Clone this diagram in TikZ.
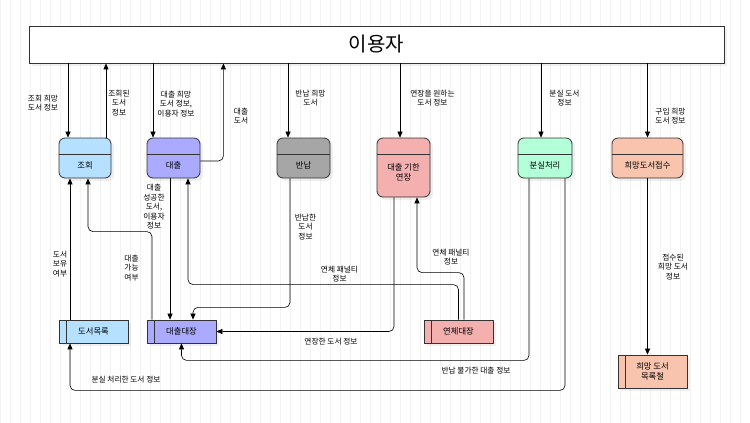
\documentclass[tikz,border=0pt]{standalone}
\usepackage{fontspec}
\setmainfont{Noto Sans CJK KR}
\usetikzlibrary{arrows.meta, shadows}

\definecolor{jocol}{HTML}{B5E0FF}
\definecolor{dccol}{HTML}{AAAAFF}
\definecolor{bncol}{HTML}{A6A6A6}
\definecolor{yjcol}{HTML}{F4AFAF}
\definecolor{bscol}{HTML}{B3FFD7}
\definecolor{hmcol}{HTML}{F8C4AE}

\begin{document}
\begin{tikzpicture}[x=1pt, y=-1pt,
  lbl/.style={font=\fontsize{7.7}{9.5}\selectfont, align=center, inner sep=0},
  ttl/.style={font=\fontsize{8.3}{10}\selectfont, align=center, inner sep=0},
  shd/.style={drop shadow={opacity=0.12, shadow xshift=3pt, shadow yshift=-3pt}},
  proc/.style={draw=black!80, line width=0.8pt, rounded corners=6, fill=#1, shd,
    minimum width=53, minimum height=40, inner sep=0,
    path picture={\draw[black!80, line width=0.8pt]
      ([yshift=-16]path picture bounding box.north west) --
      ([yshift=-16]path picture bounding box.north east);}},
  store/.style={draw=black!80, line width=0.8pt, fill=#1, shd, ttl,
    minimum width=69, minimum height=23,
    path picture={\draw[black!80, line width=0.8pt]
      ([xshift=7]path picture bounding box.north west) --
      ([xshift=7]path picture bounding box.south west);}},
  flow/.style={-{Triangle[length=6pt, width=5pt]}, line width=0.6pt, rounded corners=5}]

  \useasboundingbox (0,0) rectangle (750,423);
  \fill[white] (0,0) rectangle (750,423);
  \draw[black!5, line width=0.5pt, step=10] (0,0) grid (750,423);

  \node[draw=black!80, line width=0.8pt, fill=white, shd, minimum width=695, minimum height=37,
    font=\fontsize{20}{24}\selectfont] (user) at (376.5,44.5) {이용자};

  \node[proc=jocol, minimum width=52] (jo) at (85,158) {};
  \node[ttl] (jo-t) at ([yshift=-7]jo.center) {조회};
  \node[proc=dccol] (dc) at (173.5,158) {};
  \node[ttl] (dc-t) at ([yshift=-7]dc.center) {대출};
  \node[proc=bncol] (bn) at (303.5,158) {};
  \node[ttl] (bn-t) at ([yshift=-7]bn.center) {반납};
  \node[proc=yjcol, minimum height=59] (yj) at (403.5,167.5) {};
  \node[ttl] (yj-t) at ([yshift=-4.5]yj.center) {대출 기한\\연장};
  \node[proc=bscol, minimum width=54] (bs) at (545,158) {};
  \node[ttl] (bs-t) at ([yshift=-7]bs.center) {분실처리};
  \node[proc=hmcol, minimum width=71] (hm) at (647.5,158) {};
  \node[ttl] (hm-t) at ([yshift=-7]hm.center) {희망도서접수};

  \node[store=jocol] (dl) at (93.5,331.5) {도서목록};
  \node[store=dccol] (dd) at (181.5,331.5) {대출대장};
  \node[store=yjcol] (yc) at (458.5,331.5) {연체대장};
  \node[store=hmcol, minimum height=33] (hl) at (652.5,371.5) {희망 도서\\목록철};

  \draw[flow] ([xshift=-17]jo.north |- user.south) -- ([xshift=-17]jo.north);
  \draw[flow] ([xshift=21]jo.north) -- ([xshift=21]jo.north |- user.south);
  \draw[flow] ([xshift=-20.5]dc.north |- user.south) -- ([xshift=-20.5]dc.north);
  \draw[flow] ([yshift=-3]dc.east) -| ([xshift=23]dc.east |- user.south);
  \draw[flow] ([xshift=-15.5]bn.north |- user.south) -- ([xshift=-15.5]bn.north);
  \draw[flow] ([xshift=-3.5]yj.north |- user.south) -- ([xshift=-3.5]yj.north);
  \draw[flow] ([xshift=-4]bs.north |- user.south) -- ([xshift=-4]bs.north);
  \draw[flow] (hm.north |- user.south) -- (hm.north);

  \draw[flow] ([xshift=-23.5]dl.north) -- ([xshift=-23.5]dl.north |- jo.south);
  \draw[flow] ([xshift=-29.5]dd.north) -- ++(0,-88) -| ([xshift=3]jo.south);
  \draw[flow] ([xshift=-3.5]dc.south) -- ([xshift=-3.5]dc.south |- dd.north);
  \draw[flow] (yc.north) -- ++(0,-35) -| ([xshift=14.5]dc.south);
  \draw[flow] ([xshift=5.5]yc.north) -- ++(0,-47) -| ([xshift=13.5]yj.south);
  \draw[flow] ([xshift=-13.5]bn.south) -- ++(0,129) -| ([xshift=11.5]dd.north);
  \draw[flow] ([xshift=-9.5]yj.south) |- (dd.east);
  \draw[flow] ([xshift=-16]bs.south) -- ++(0,182) -| (dd.south);
  \draw[flow] ([xshift=20]bs.south) -- ++(0,212) -| ([xshift=-23.5]dl.south);
  \draw[flow] (hm.south) -- (hm.south |- hl.north);

  \node[lbl] (l-jo-in) at (43,103) {조회 희망\\도서 정보};
  \node[lbl] (l-jo-out) at (119,103) {조회된\\도서\\정보};
  \node[lbl] (l-dc-in) at (176,104) {대출 희망\\도서 정보,\\이용자 정보};
  \node[lbl] (l-dc-out) at (241,116) {대출\\도서};
  \node[lbl] (l-bn-in) at (310.5,98) {반납 희망\\도서};
  \node[lbl] (l-yj-in) at (432.5,98) {연장을 원하는\\도서 정보};
  \node[lbl] (l-bs-in) at (564.5,98) {분실 도서\\정보};
  \node[lbl] (l-hm-in) at (670.5,116) {구입 희망\\도서 정보};
  \node[lbl] (l-dc-dd) at (154,207) {대출\\성공한\\도서,\\이용자\\정보};
  \node[lbl] (l-dl-jo) at (60,264) {도서\\보유\\여부};
  \node[lbl] (l-dd-jo) at (131.5,268) {대출\\가능\\여부};
  \node[lbl] (l-bn-dd) at (305.5,227) {반납한\\도서\\정보};
  \node[lbl] (l-yc-dc) at (339.5,274) {연체 패널티\\정보};
  \node[lbl] (l-yc-yj) at (451,257) {연체 패널티\\정보};
  \node[lbl] (l-yj-dd) at (331,342) {연장한 도서 정보};
  \node[lbl] (l-bs-dl) at (126,380) {분실 처리한 도서 정보};
  \node[lbl] (l-bs-dd) at (476,371) {반납 불가한 대출 정보};
  \node[lbl] (l-hm-hl) at (673,267) {접수된\\희망 도서\\정보};
\end{tikzpicture}
\end{document}
